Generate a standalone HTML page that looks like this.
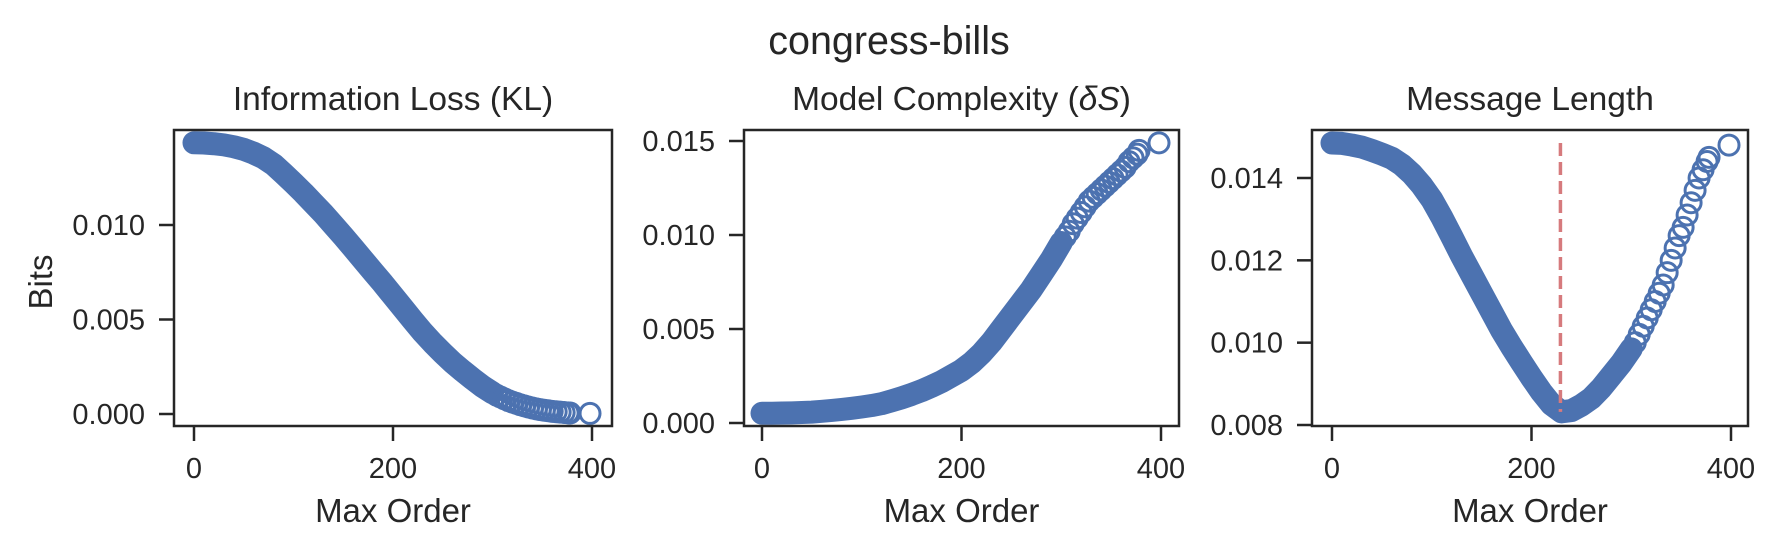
<!DOCTYPE html>
<html><head><meta charset="utf-8"><style>
html,body{margin:0;padding:0;background:#fff}
svg{display:block}
text{font-family:"Liberation Sans",Arial,sans-serif;fill:#262626}
</style></head><body>
<svg id="chart" width="1779" height="554" viewBox="0 0 1779 554" xmlns="http://www.w3.org/2000/svg">
<text x="889" y="54" font-size="39.5" text-anchor="middle">congress-bills</text>
</svg>
<script>
const denseOrders=[0,10,20,30,40,50,60,70,80,90,100,110,120,130,140,150,160,170,180,190,200,210,220,230,240,250,260,270,280,290,300];
const tailOrders=[304,308,312,316,320,324,328,332,336,340,344,348,352,356,360,364,368,372,376,378,398];
const klDense=[.01435,.01434,.01430,.01424,.01414,.01400,.01380,.01355,.01320,.01272,.01222,.01170,.01115,.01060,.01000,.00940,.00878,.00815,.00752,.00690,.00625,.00560,.00495,.00432,.00375,.00322,.00272,.00228,.00186,.00146,.00112];
const klTail=[.00100,.00090,.00080,.00071,.00063,.00056,.00049,.00043,.00037,.00032,.00027,.00023,.00020,.00017,.00014,.00012,.00010,.00008,.00006,.00005,.00003];
const dsDense=[.00052,.00052,.00053,.00054,.00056,.00058,.00062,.00067,.00072,.00078,.00085,.00093,.00103,.00118,.00134,.00152,.00172,.00195,.00220,.00250,.00280,.00320,.00370,.00430,.00500,.00570,.00640,.00710,.00790,.00870,.00960];
const dsTail=[.0099,.0102,.0106,.0109,.0112,.0115,.0118,.0120,.0122,.0124,.0126,.0128,.0130,.0132,.0134,.0136,.0139,.0141,.0143,.0145,.0149];
const mlDense=[.01485,.01484,.01480,.01475,.01467,.01458,.01448,.01432,.01410,.01382,.01348,.01305,.01258,.01210,.01165,.01120,.01075,.01030,.00990,.00952,.00915,.00880,.00850,.00832,.00835,.00848,.00865,.00890,.00920,.00950,.00985];
const mlTail=[.0100,.0102,.0104,.0106,.0108,.0110,.0112,.0114,.0117,.0120,.0123,.0126,.0128,.0131,.0134,.0137,.0140,.0142,.0144,.0145,.0148];
const xTicks=[0,200,400];
const klTicks=[0,0.005,0.010];
const dsTicks=[0,0.005,0.010,0.015];
const mlTicks=[0.008,0.010,0.012,0.014];
const bestOrder=229;

const NS="http://www.w3.org/2000/svg";
const svg=document.getElementById('chart');
const C="#4c72b0";
function mk(tag,attrs,parent){const e=document.createElementNS(NS,tag);for(const k in attrs)e.setAttribute(k,attrs[k]);(parent||svg).appendChild(e);return e;}

const panels=[
 {name:'information-loss',title:'Information Loss (KL)',box:[174,612],x0:194,x1:592,yv:[0,0.010],yp:[414,225],ticks:klTicks,dense:klDense,tail:klTail,ylabel:true},
 {name:'model-complexity',title:'Model Complexity (',box:[744,1179],x0:762,x1:1161,yv:[0,0.015],yp:[423,141],ticks:dsTicks,dense:dsDense,tail:dsTail},
 {name:'message-length',title:'Message Length',box:[1312,1748],x0:1332,x1:1731,yv:[0.008,0.014],yp:[425,178],ticks:mlTicks,dense:mlDense,tail:mlTail,vline:true}
];
const TOPY=130,BOTY=426;
panels.forEach(p=>{
 const g=mk('g',{});
 
 
 const xs=v=>p.x0+(p.x1-p.x0)*v/400;
 const ys=v=>p.yp[0]+(p.yp[1]-p.yp[0])*(v-p.yv[0])/(p.yv[1]-p.yv[0]);
 const cx=(p.box[0]+p.box[1])/2;
 const t=mk('text',{x:cx,y:110,'font-size':33.5,'text-anchor':'middle'},g);
 
 
 if(p.name==='model-complexity'){
  t.textContent='Model Complexity (';
  const s1=mk('tspan',{'font-style':'italic'},t);s1.textContent='δS';
  const s2=mk('tspan',{},t);s2.textContent=')';
 } else t.textContent=p.title;
 xTicks.forEach(v=>{
  const l=mk('line',{x1:xs(v),x2:xs(v),y1:BOTY,y2:BOTY+15,stroke:'#262626','stroke-width':2.5},g);
  
  
  const tx=mk('text',{x:xs(v),y:478,'font-size':29,'text-anchor':'middle'},g);
  
  
  tx.textContent=String(v);
 });
 p.ticks.forEach(v=>{
  const y=ys(v);
  const l=mk('line',{x1:p.box[0]-15,x2:p.box[0],y1:y,y2:y,stroke:'#262626','stroke-width':2.5},g);
  
  
  const tx=mk('text',{x:p.box[0]-29,y:y+10,'font-size':29,'text-anchor':'end'},g);
  
  
  tx.textContent=v.toFixed(3);
 });
 const xl=mk('text',{x:cx,y:522,'font-size':33,'text-anchor':'middle'},g);
 
 
 xl.textContent='Max Order';
 if(p.ylabel){
  const yl=mk('text',{x:52,y:282,'font-size':33,'text-anchor':'middle',transform:'rotate(-90 52 282)'},g);
  
  
  yl.textContent='Bits';
 }
 const pts=denseOrders.map((o,i)=>xs(o)+','+ys(p.dense[i])).join(' ');
 const band=mk('polyline',{points:pts,fill:'none',stroke:C,'stroke-width':23,'stroke-linecap':'round','stroke-linejoin':'round'},g);
 
 
 tailOrders.forEach((o,i)=>{
  const c=mk('circle',{cx:xs(o),cy:ys(p.tail[i]),r:10,fill:'none',stroke:C,'stroke-width':3},g);
  
  
 });
 if(p.vline){
  const mn=Math.min(...p.dense,...p.tail),mx=Math.max(...p.dense,...p.tail);
  const vl=mk('line',{x1:xs(bestOrder),x2:xs(bestOrder),y1:ys(mx),y2:ys(mn),stroke:'#d67a7d','stroke-width':3.5,'stroke-dasharray':'13 6'},g);
  
  
 }
 const fr=mk('rect',{x:p.box[0],y:TOPY,width:p.box[1]-p.box[0],height:BOTY-TOPY,fill:'none',stroke:'#262626','stroke-width':2.5},g);
 
 
});
</script>
</body></html>
